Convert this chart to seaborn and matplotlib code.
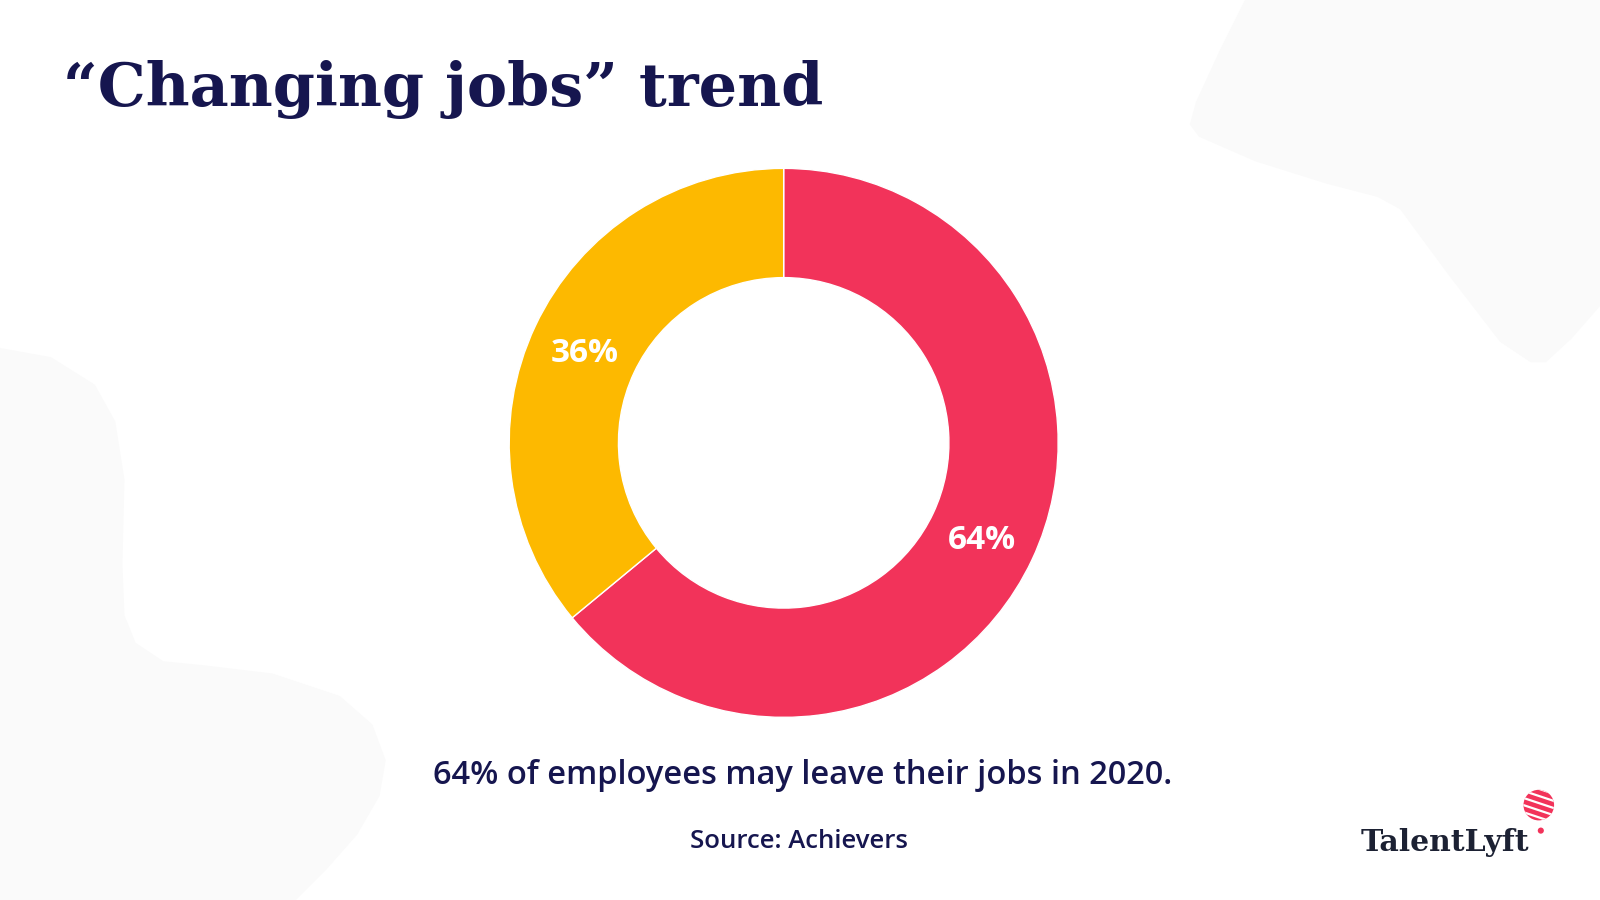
import numpy as np
import pandas as pd
import matplotlib
matplotlib.use("Agg")
import matplotlib.pyplot as plt
import seaborn as sns
from matplotlib.patches import Polygon, Circle

# ---- data ----
categories = ["May leave their jobs", "Staying"]
shares = [64, 36]
slice_colors = ["#F2335A", "#FDB900"]
title_text = "\u201cChanging jobs\u201d trend"
subtitle_text = "64% of employees may leave their jobs in 2020."
source_text = "Source: Achievers"
logo_text = "TalentLyft"

df = pd.DataFrame({"category": categories, "share": shares})

sns.set_theme(style="white")
plt.rcParams["font.family"] = ["Open Sans", "DejaVu Sans"]

W, H = 1568, 882  # reference pixel frame
fig = plt.figure(figsize=(16, 9), dpi=100)
fig.patch.set_facecolor("white")

# background / annotation layer in reference pixel coordinates
bg = fig.add_axes([0, 0, 1, 1], zorder=0)
bg.set_xlim(0, W)
bg.set_ylim(H, 0)
bg.axis("off")

shape_col = "#FAFAFA"
top_right = [(1220, 0), (1195, 50), (1172, 100), (1166, 122), (1175, 134),
             (1230, 158), (1300, 180), (1350, 193), (1372, 205), (1420, 270),
             (1470, 335), (1500, 355), (1515, 355), (1540, 332), (1568, 300),
             (1568, 0)]
bg.add_patch(Polygon(top_right, closed=True, facecolor=shape_col, edgecolor="none"))
left = [(0, 341), (50, 350), (93, 377), (113, 413), (122, 470), (120, 553),
        (122, 603), (133, 630), (160, 648), (200, 652), (267, 660), (333, 682),
        (365, 710), (378, 745), (372, 780), (350, 818), (320, 852), (290, 882),
        (0, 882)]
bg.add_patch(Polygon(left, closed=True, facecolor=shape_col, edgecolor="none"))

navy = "#16164F"
bg.text(62, 104, title_text, fontsize=43.5, fontweight="bold", color=navy,
        family=["DejaVu Serif"], ha="left", va="baseline")
bg.text(787, 760, subtitle_text, fontsize=23.5, color=navy, ha="center",
        va="center", fontweight=600)
bg.text(783, 825, source_text, fontsize=18.5, color=navy, ha="center",
        va="center", fontweight=600)

# logo
bg.text(1333, 834, logo_text, fontsize=21.5, fontweight="bold", color="#1C2133",
        family=["DejaVu Serif"], ha="left", va="baseline")
balloon = Circle((1508, 789), 15, facecolor="#F2335A", edgecolor="none")
bg.add_patch(balloon)
for k in range(-3, 4):
    ln, = bg.plot([1490, 1526], [789 + k * 7 - 8, 789 + k * 7 + 4],
                  color="white", lw=1.6, solid_capstyle="butt")
    ln.set_clip_path(balloon)
bg.add_patch(Circle((1510, 814), 3, facecolor="#F2335A", edgecolor="none"))

# donut chart
cx, cy, R = 768, 434, 269
ax = fig.add_axes([(cx - R) / W, 1 - (cy + R) / H, 2 * R / W, 2 * R / H], zorder=1)
wedges, texts, autotexts = ax.pie(
    df["share"], colors=slice_colors, startangle=90, counterclock=False,
    radius=1, autopct="%d%%", pctdistance=0.8,
    wedgeprops=dict(width=0.398, edgecolor="white", linewidth=1.0),
    textprops=dict(color="white", fontsize=24, fontweight="bold",
                   family=["Open Sans", "DejaVu Sans"]))
for t in autotexts:
    x, y = t.get_position()
    t.set_position((x, y - 0.015))
ax.set_xlim(-1, 1)
ax.set_ylim(-1, 1)
ax.set_aspect("equal")
ax.axis("off")

fig.savefig("out.png", dpi=100, facecolor="white")
